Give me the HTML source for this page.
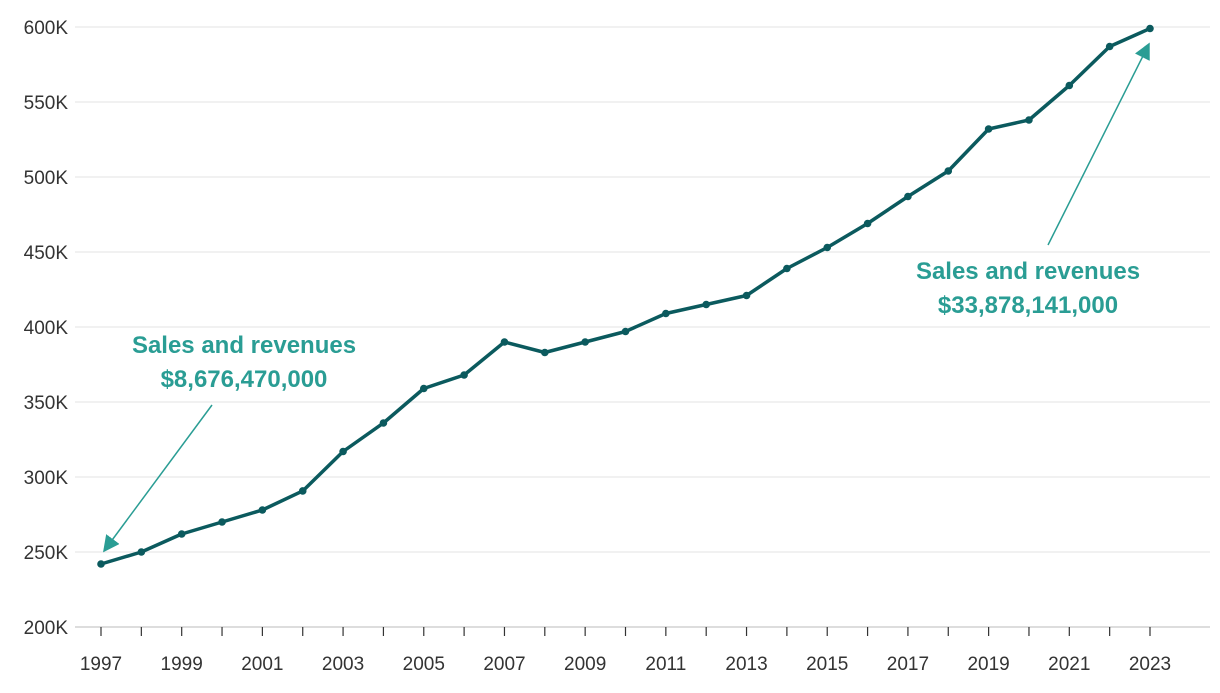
<!DOCTYPE html>
<html><head><meta charset="utf-8"><style>
body{margin:0;background:#fff;font-family:"Liberation Sans",sans-serif}
svg text{font-family:"Liberation Sans",sans-serif}
</style></head><body>
<svg id="chart" width="1220" height="688" xmlns="http://www.w3.org/2000/svg">
<defs><marker id="ah" viewBox="0 0 10 10" refX="9" refY="5" markerWidth="11" markerHeight="11" orient="auto-start-reverse"><path d="M0,0 L10,5 L0,10 z" fill="#2a9d94"/></marker></defs>
<g id="grid"></g>
<g id="yax"></g>
<g id="xax"></g>
<g id="series"></g>
<g>
<text x="244" y="353" text-anchor="middle" font-size="24" fill="#2a9d94" font-weight="600">Sales and revenues</text>
<text x="244" y="387" text-anchor="middle" font-size="24" fill="#2a9d94" font-weight="600">$8,676,470,000</text>
<line x1="212" y1="405" x2="104" y2="551" stroke="#2a9d94" stroke-width="1.5" marker-end="url(#ah)"/>
</g>
<g>
<text x="1028" y="279" text-anchor="middle" font-size="24" fill="#2a9d94" font-weight="600">Sales and revenues</text>
<text x="1028" y="313" text-anchor="middle" font-size="24" fill="#2a9d94" font-weight="600">$33,878,141,000</text>
<line x1="1048" y1="245" x2="1149" y2="44" stroke="#2a9d94" stroke-width="1.5" marker-end="url(#ah)"/>
</g>
</svg>
<script>
const years=[1997,1998,1999,2000,2001,2002,2003,2004,2005,2006,2007,2008,2009,2010,2011,2012,2013,2014,2015,2016,2017,2018,2019,2020,2021,2022,2023];
const values=[242,250,262,270,278,290.7,317,336,359,368,390,383,390,397,409,415,421,439,453,469,487,504,532,538,561,587,599];
const yTicks=[200,250,300,350,400,450,500,550,600];
const NS="http://www.w3.org/2000/svg";
const x=y=>101+(y-1997)*(1049/26);
const yS=v=>627-(v-200)*1.5;
function mk(tag,attrs,parent,txt){const e=document.createElementNS(NS,tag);for(const k in attrs)e.setAttribute(k,attrs[k]);if(txt!==undefined)e.textContent=txt;parent.appendChild(e);return e;}
const grid=document.getElementById('grid'),yax=document.getElementById('yax'),xax=document.getElementById('xax'),ser=document.getElementById('series');
yTicks.forEach(t=>{
 const l=mk('line',{x1:75,x2:1210,y1:yS(t),y2:yS(t),stroke:t===200?'#bbb':'#e3e3e3','stroke-width':1},grid);
 
 
 const tx=mk('text',{x:68,y:yS(t)+7,'text-anchor':'end','font-size':19,fill:'#333'},yax,t+'K');
 
 
});
years.forEach(yr=>{
 const tk=mk('line',{x1:x(yr),x2:x(yr),y1:627,y2:636,stroke:'#333','stroke-width':1.2},xax);
 
 
 if(yr%2===1){const t=mk('text',{x:x(yr),y:670,'text-anchor':'middle','font-size':19,fill:'#333'},xax,String(yr));
 
 }
});
const p=mk('polyline',{points:years.map((yr,i)=>x(yr)+','+yS(values[i])).join(' '),fill:'none',stroke:'#0b5a5e','stroke-width':3.5,'stroke-linejoin':'round'},ser);


years.forEach((yr,i)=>{const c=mk('circle',{cx:x(yr),cy:yS(values[i]),r:3.8,fill:'#0b5a5e'},ser);
 
 });
</script>
</body></html>
